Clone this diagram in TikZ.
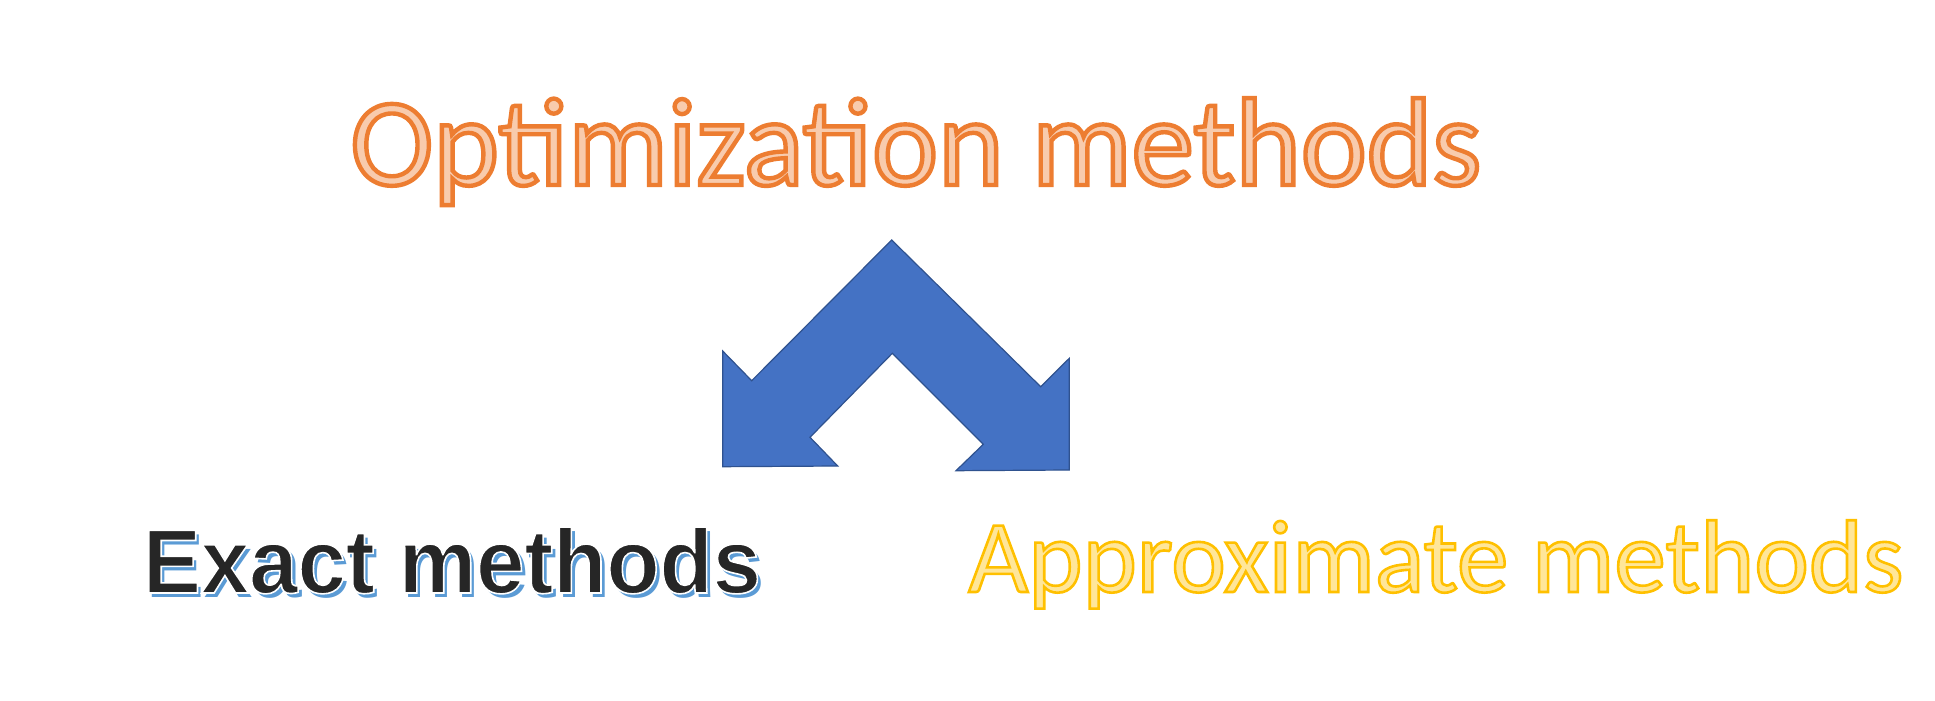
\documentclass[tikz,border=0pt]{standalone}
\usepackage{fontspec}
\usepackage{tikz}
\usetikzlibrary{positioning}
\usepackage{xcolor}
\newfontfamily\calfont{Carlito}
\newfontfamily\arlfont[FakeStretch=0.955]{Liberation Sans}
\definecolor{optfill} {RGB}{248,203,173}
\definecolor{apxfill} {RGB}{255,230,153}
\definecolor{exfill}  {RGB}{ 38, 38, 38}
\definecolor{exshade} {RGB}{ 91,155,213}
\definecolor{arrfill} {RGB}{ 68,114,196}
\definecolor{arrline} {RGB}{ 47, 82,143}
% outlined text: stroke colour (r g b), stroke width, text
\newcommand{\outl}[3]{\special{pdf:code q 2 Tr #2 w #1 RG}#3\special{pdf:code Q}}
% text with a blue shadow down right
\newcommand{\shadowed}[1]{\makebox[0pt][l]{\hspace{2pt}\raisebox{-2pt}{\color{exshade}#1}}\outl{1 1 1}{0.8}{#1}}
\tikzset{
  ttl/.style  ={inner sep=0pt,anchor=base},
  opt/.style  ={ttl,text=optfill,font=\calfont\fontsize{62.5}{62.5}\selectfont},
  apx/.style  ={ttl,text=apxfill,font=\calfont\fontsize{51.7}{51.7}\selectfont},
  exa/.style  ={ttl,text=exfill,font=\arlfont\bfseries\fontsize{45.5}{45.5}\selectfont},
  twin/.style ={draw=arrline,fill=arrfill,line width=0.6pt,line join=miter},
}

\begin{document}
\begin{tikzpicture}[x=0.5pt,y=-0.5pt]
  \useasboundingbox (0,0) rectangle (1935,701);
  % nodes
  \node[opt] (opt) at (916,185) {\outl{0.929 0.490 0.192}{2.2}{Optimization methods}};
  \node[exa] (exact) at (452,593) {\shadowed{Exact methods}};
  \node[apx] (apx) at (1436,592) {\outl{1 0.753 0}{1.3}{Approximate methods}};
  % split arrow
  \draw[twin] (891.7,240) -- (1040.7,386.7) -- (1069.3,358.3) -- (1069.3,470)
    -- (956,470.7) -- (983.3,444.3) -- (892.3,353.3) -- (810,437.3)
    -- (837.7,466) -- (722.7,466.7) -- (722.7,351) -- (751.7,380.7) -- cycle;
\end{tikzpicture}
\end{document}
